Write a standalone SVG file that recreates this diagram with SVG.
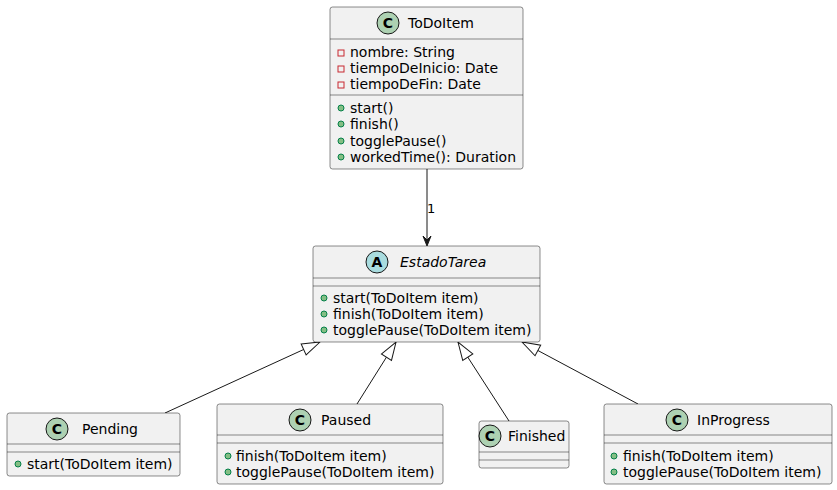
<svg xmlns="http://www.w3.org/2000/svg" width="837" height="490" viewBox="0 0 837 490">
<style>
text{font-family:"DejaVu Sans","Liberation Sans",sans-serif;fill:#000000;}
.box{fill:#F1F1F1;stroke:#181818;stroke-width:0.5;}
.sep{stroke:#181818;stroke-width:0.5;}
.title{font-size:14px;}
.mem{font-size:14px;}
.ci{fill:#ADD1B2;stroke:#181818;stroke-width:1;}
.ai{fill:#A9DCDF;stroke:#181818;stroke-width:1;}
.letter{font-size:14px;font-weight:bold;text-anchor:middle;}
.pub{fill:#84BE84;stroke:#038048;stroke-width:1;}
.priv{fill:none;stroke:#C82930;stroke-width:1;}
.edge{fill:none;stroke:#181818;stroke-width:1;}
.lbl{font-size:13px;}
</style>
<defs>
<marker id="ext" markerUnits="userSpaceOnUse" viewBox="-1 -1 20 14" refX="18" refY="6" markerWidth="20" markerHeight="14" orient="auto">
<path d="M0,0 L18,6 L0,12 Z" fill="#FFFFFF" stroke="#181818" stroke-width="1"/>
</marker>
</defs>
<rect width="837" height="490" fill="#FFFFFF"/>

<g id="connectors">
<line class="edge" x1="427" y1="169" x2="427" y2="240"/>
<polygon points="427,246 431,236 427,240 423,236" fill="#181818" stroke="#181818" stroke-width="1"/>
<text class="lbl" x="427" y="213">1</text>
<line class="edge" x1="165" y1="413" x2="320" y2="342" marker-end="url(#ext)"/>
<line class="edge" x1="357" y1="404" x2="396" y2="342" marker-end="url(#ext)"/>
<line class="edge" x1="509" y1="421" x2="458" y2="342" marker-end="url(#ext)"/>
<line class="edge" x1="638" y1="404" x2="522" y2="342" marker-end="url(#ext)"/>
</g>

<g id="ToDoItem">
<rect class="box" x="330" y="7" width="193" height="162" rx="2.5"/>
<circle class="ci" cx="388" cy="23" r="11"/>
<text class="letter" x="388" y="28">C</text>
<text class="title" x="408" y="28">ToDoItem</text>
<line class="sep" x1="330" y1="39" x2="523" y2="39"/>
<rect class="priv" x="338" y="50" width="6" height="6"/>
<text class="mem" x="350" y="57">nombre: String</text>
<rect class="priv" x="338" y="66" width="6" height="6"/>
<text class="mem" x="350" y="73">tiempoDeInicio: Date</text>
<rect class="priv" x="338" y="82" width="6" height="6"/>
<text class="mem" x="350" y="89">tiempoDeFin: Date</text>
<line class="sep" x1="330" y1="95" x2="523" y2="95"/>
<circle class="pub" cx="341" cy="108" r="3"/>
<text class="mem" x="350" y="113">start()</text>
<circle class="pub" cx="341" cy="124" r="3"/>
<text class="mem" x="350" y="129">finish()</text>
<circle class="pub" cx="341" cy="141" r="3"/>
<text class="mem" x="350" y="146">togglePause()</text>
<circle class="pub" cx="341" cy="157" r="3"/>
<text class="mem" x="350" y="162">workedTime(): Duration</text>
</g>

<g id="EstadoTarea">
<rect class="box" x="313" y="246" width="227" height="96" rx="2.5"/>
<circle class="ai" cx="377" cy="262" r="11"/>
<text class="letter" x="377" y="267">A</text>
<text class="title" x="400" y="267" font-style="italic">EstadoTarea</text>
<line class="sep" x1="313" y1="278" x2="540" y2="278"/>
<line class="sep" x1="313" y1="286" x2="540" y2="286"/>
<circle class="pub" cx="324" cy="298" r="3"/>
<text class="mem" x="333" y="303">start(ToDoItem item)</text>
<circle class="pub" cx="324" cy="314" r="3"/>
<text class="mem" x="333" y="319">finish(ToDoItem item)</text>
<circle class="pub" cx="324" cy="330" r="3"/>
<text class="mem" x="333" y="335">togglePause(ToDoItem item)</text>
</g>

<g id="Pending">
<rect class="box" x="7" y="413" width="173" height="63" rx="2.5"/>
<circle class="ci" cx="57" cy="429" r="11"/>
<text class="letter" x="57" y="434">C</text>
<text class="title" x="82" y="434">Pending</text>
<line class="sep" x1="7" y1="444" x2="180" y2="444"/>
<line class="sep" x1="7" y1="452" x2="180" y2="452"/>
<circle class="pub" cx="18" cy="464" r="3"/>
<text class="mem" x="27" y="469">start(ToDoItem item)</text>
</g>

<g id="Paused">
<rect class="box" x="217" y="404" width="226" height="80" rx="2.5"/>
<circle class="ci" cx="300" cy="420" r="11"/>
<text class="letter" x="300" y="425">C</text>
<text class="title" x="321" y="425">Paused</text>
<line class="sep" x1="217" y1="435" x2="443" y2="435"/>
<line class="sep" x1="217" y1="443" x2="443" y2="443"/>
<circle class="pub" cx="228" cy="456" r="3"/>
<text class="mem" x="236" y="461">finish(ToDoItem item)</text>
<circle class="pub" cx="228" cy="472" r="3"/>
<text class="mem" x="236" y="477">togglePause(ToDoItem item)</text>
</g>

<g id="Finished">
<rect class="box" x="479" y="421" width="90" height="47" rx="2.5"/>
<circle class="ci" cx="490" cy="436" r="11"/>
<text class="letter" x="490" y="441">C</text>
<text class="title" x="508" y="441">Finished</text>
<line class="sep" x1="479" y1="452" x2="569" y2="452"/>
<line class="sep" x1="479" y1="460" x2="569" y2="460"/>
</g>

<g id="InProgress">
<rect class="box" x="604" y="404" width="228" height="80" rx="2.5"/>
<circle class="ci" cx="677" cy="420" r="11"/>
<text class="letter" x="677" y="425">C</text>
<text class="title" x="697" y="425">InProgress</text>
<line class="sep" x1="604" y1="435" x2="832" y2="435"/>
<line class="sep" x1="604" y1="443" x2="832" y2="443"/>
<circle class="pub" cx="614" cy="456" r="3"/>
<text class="mem" x="623" y="461">finish(ToDoItem item)</text>
<circle class="pub" cx="614" cy="472" r="3"/>
<text class="mem" x="623" y="477">togglePause(ToDoItem item)</text>
</g>
</svg>
